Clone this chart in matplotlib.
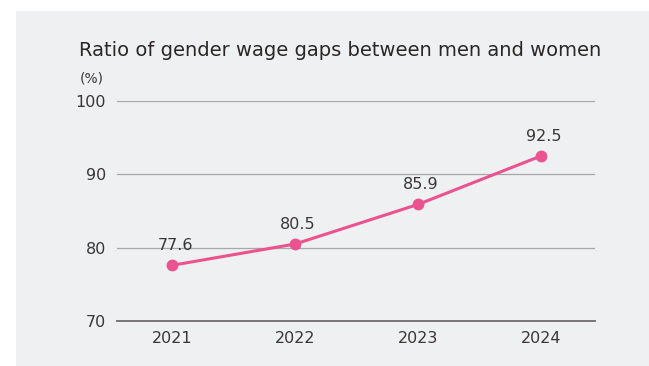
import matplotlib.pyplot as plt
from matplotlib.patches import Rectangle

years = ['2021', '2022', '2023', '2024']
ratio = [77.6, 80.5, 85.9, 92.5]
y_ticks = [70, 80, 90, 100]

PINK = '#ea5390'
TEXT = '#3a3636'

plt.rcParams['font.family'] = ['DejaVu Sans']

W, H = 649, 366
fig = plt.figure(figsize=(W / 100, H / 100), dpi=100)
fig.patch.set_facecolor('white')

# light gray panel behind the chart
fig.patches.append(Rectangle((16 / W, 0), 1 - 16 / W, (H - 11) / H,
                             transform=fig.transFigure, facecolor='#eff0f2',
                             edgecolor='none', zorder=-5))

ax = fig.add_axes([117 / W, (H - 321) / H, (595 - 117) / W, (321 - 101) / H])
ax.set_facecolor('none')
ax.set_zorder(2)

x = list(range(len(years)))
ax.plot(x, ratio, color=PINK, lw=2.2, marker='o', ms=7.5, zorder=3,
        clip_on=False)
for xi, v in zip(x, ratio):
    ax.annotate(f'{v:.1f}', (xi, v), xytext=(2, 9), textcoords='offset points',
                ha='center', va='bottom', fontsize=11.5, color=TEXT)

ax.set_ylim(70, 100)
ax.set_xlim(-0.45, 3.44)
ax.set_yticks(y_ticks)
ax.set_xticks(x)
ax.set_xticklabels(years)
ax.tick_params(length=0, labelsize=11.5, colors=TEXT)
ax.tick_params(axis='y', pad=8)
ax.tick_params(axis='x', pad=7)

for t in y_ticks[1:]:
    ax.axhline(t, color='#a8a8a8', lw=0.9, zorder=1)
for s in ['top', 'right', 'left']:
    ax.spines[s].set_visible(False)
ax.spines['bottom'].set_color('#7a7575')
ax.spines['bottom'].set_linewidth(1.4)

fig.text(79 / W, 1 - 50 / H, 'Ratio of gender wage gaps between men and women',
         fontsize=14, color='#2b2727', va='center', ha='left')
fig.text(80 / W, 1 - 78 / H, '(%)', fontsize=10, color=TEXT,
         va='center', ha='left')

fig.savefig('out.png', dpi=100)
